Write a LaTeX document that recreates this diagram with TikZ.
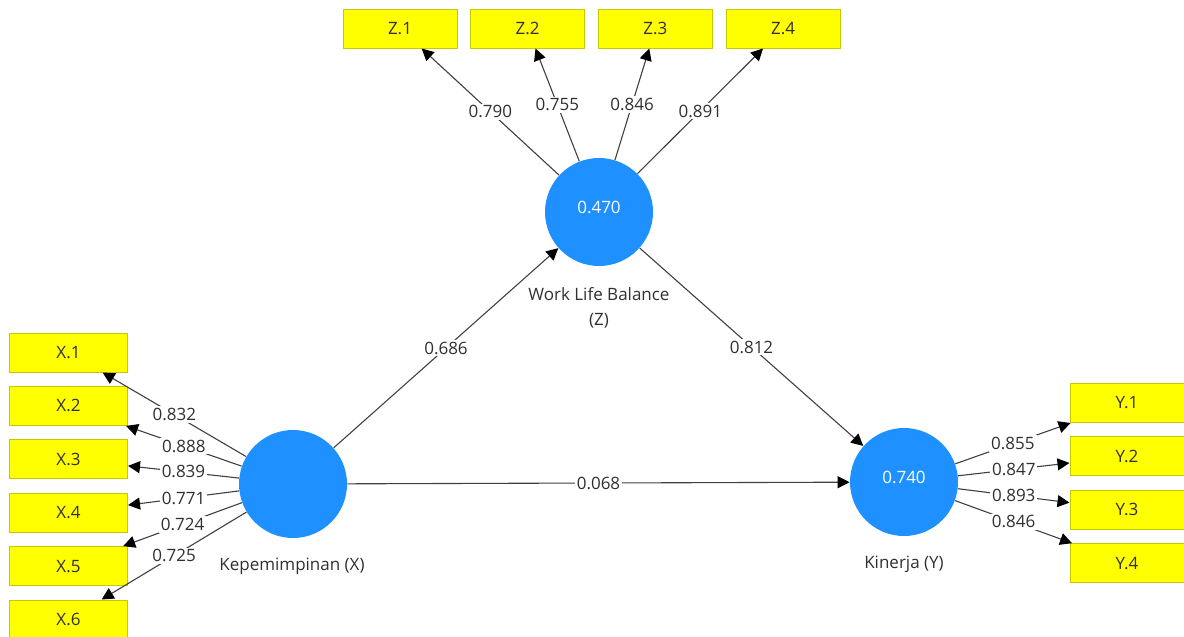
\documentclass[tikz,border=0pt]{standalone}
\usepackage{fontspec}
\setmainfont{Open Sans}
\usetikzlibrary{arrows.meta}
\definecolor{plsblue}{HTML}{1E90FF}
\definecolor{plsyellow}{HTML}{FFFF00}
\definecolor{plsedge}{HTML}{C8C800}
\definecolor{plsline}{HTML}{404040}
\definecolor{plstext}{HTML}{303030}

\begin{document}
\begin{tikzpicture}[x=0.5pt,y=-0.5pt,
  font=\fontsize{8.5}{12.5}\selectfont,
  latent/.style={circle,fill=plsblue,minimum size=54pt,inner sep=0pt,text=white,text depth=5pt},
  item/.style={rectangle,draw=plsedge,fill=plsyellow,line width=0.5pt,minimum width=57pt,minimum height=19.5pt,inner sep=0pt,text=plstext},
  pathline/.style={draw=plsline,line width=0.55pt,-{Triangle[length=6pt,width=6pt,color=black]}},
  coef/.style={fill=white,inner sep=1pt,text=plstext}]
  \useasboundingbox (0,0) rectangle (1184,637);
  % Latent variables and their names
  \node[latent] (kx) at (293,484) {};
  \node[latent] (wz) at (599,212) {0.470};
  \node[latent] (ky) at (904,482) {0.740};
  \node[text=plstext] (lx) at (292,566) {Kepemimpinan (X)};
  \node[text=plstext,align=center] (lz) at (599,308) {Work Life Balance\\(Z)};
  \node[text=plstext] (ly) at (904,564) {Kinerja (Y)};
  % Indicators
  \foreach \i in {1,...,6}
    \node[item,minimum width=59pt] (x\i) at (68.5,{352.5+53.4*(\i-1)}) {X.\i};
  \foreach \i in {1,...,4}
    \node[item] (z\i) at ({400+127.7*(\i-1)},28.5) {Z.\i};
  \foreach \i in {1,...,4}
    \node[item] (y\i) at (1127,{403+53.4*(\i-1)}) {Y.\i};
  % Outer loadings
  \foreach \i in {1,...,6} \draw[pathline] (kx) -- (x\i);
  \foreach \i in {1,...,4} \draw[pathline] (wz) -- (z\i);
  \foreach \i in {1,...,4} \draw[pathline] (ky) -- (y\i);
  % Inner paths
  \draw[pathline] (kx) -- (wz);
  \draw[pathline] (wz) -- (ky);
  \draw[pathline] (kx) -- (ky);
  % Coefficients on top of the lines
  \foreach \i/\v in {1/0.832,2/0.888,3/0.839,4/0.771,5/0.724,6/0.725}
    \path (kx) -- (x\i) node[coef,midway] {\v};
  \foreach \i/\v in {1/0.790,2/0.755,3/0.846,4/0.891}
    \path (wz) -- (z\i) node[coef,midway] {\v};
  \foreach \i/\v in {1/0.855,2/0.847,3/0.893,4/0.846}
    \path (ky) -- (y\i) node[coef,midway] {\v};
  \path (kx) -- (wz) node[coef,midway] {0.686};
  \path (wz) -- (ky) node[coef,midway] {0.812};
  \path (kx) -- (ky) node[coef,midway] {0.068};
\end{tikzpicture}
\end{document}
